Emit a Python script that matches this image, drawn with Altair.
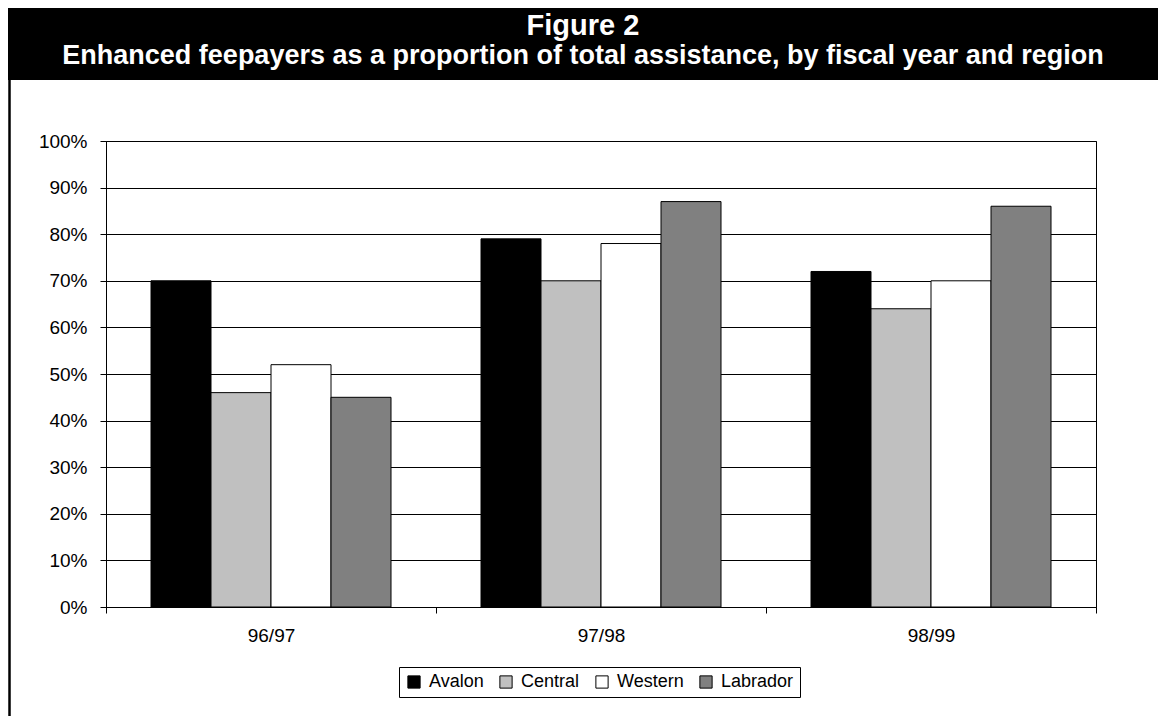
import altair as alt
import pandas as pd

years = ["96/97", "97/98", "98/99"]
regions = ["Avalon", "Central", "Western", "Labrador"]
avalon = [70, 79, 72]
central = [46, 70, 64]
western = [52, 78, 70]
labrador = [45, 87, 86]
region_colors = ["#000000", "#C0C0C0", "#FFFFFF", "#808080"]
title_text = "Figure 2"
subtitle_text = "Enhanced feepayers as a proportion of total assistance, by fiscal year and region"
y_ticks = [i / 10 for i in range(11)]

series = [avalon, central, western, labrador]
rows = []
for r, vals in zip(regions, series):
    for yr, v in zip(years, vals):
        rows.append({"year": yr, "region": r, "value": v / 100})
df = pd.DataFrame(rows)

FONT = "Liberation Sans"
PW, PH = 990, 466
PL, PT, PR, PB = 98, 133, 62, 109

bars = alt.Chart(df).mark_bar(stroke="black", strokeWidth=1).encode(
    x=alt.X("year:N", sort=years,
            scale=alt.Scale(paddingInner=0, paddingOuter=0),
            axis=alt.Axis(title=None, labelAngle=0, tickBand="extent",
                          labelFontSize=19, labelPadding=13, tickSize=6,
                          tickColor="black", domainColor="black",
                          labelColor="black", labelFont=FONT, grid=False)),
    xOffset=alt.XOffset("region:N", sort=regions,
                        scale=alt.Scale(paddingInner=0, paddingOuter=0.75)),
    y=alt.Y("value:Q", scale=alt.Scale(domain=[0, 1]),
            axis=alt.Axis(title=None, values=y_ticks, format=".0%",
                          labelFontSize=19, labelPadding=13, tickSize=6,
                          tickColor="black", domainColor="black",
                          labelColor="black", labelFont=FONT,
                          grid=True, gridColor="black", gridOpacity=1,
                          gridWidth=1)),
    fill=alt.Fill("region:N", sort=regions,
                  scale=alt.Scale(domain=regions, range=region_colors),
                  legend=alt.Legend(title=None, orient="none", legendX=293,
                                    legendY=526, direction="horizontal",
                                    columns=4,
                                    strokeColor="black", padding=6,
                                    symbolType="square", symbolSize=150,
                                    symbolStrokeColor="black",
                                    symbolStrokeWidth=1,
                                    labelFontSize=18, labelFont=FONT,
                                    labelColor="black", labelOffset=6,
                                    columnPadding=13)),
)

one = pd.DataFrame({"k": [0]})
band = alt.Chart(one).mark_rect(color="black").encode(
    x=alt.value(-PL), x2=alt.value(PW + PR),
    y=alt.value(-PT), y2=alt.value(80 - 141),
)
border = alt.Chart(one).mark_rule(color="black", strokeWidth=2.5).encode(
    x=alt.value(-PL + 1.5), y=alt.value(-PT), y2=alt.value(PH + PB),
)
t1 = alt.Chart(pd.DataFrame({"t": [title_text]})).mark_text(
    font=FONT, fontSize=29, fontWeight="bold", color="white",
    align="center", baseline="alphabetic",
).encode(text="t:N", x=alt.value(477), y=alt.value(35 - 141))
t2 = alt.Chart(pd.DataFrame({"t": [subtitle_text]})).mark_text(
    font=FONT, fontSize=27, fontWeight="bold", color="white",
    align="center", baseline="alphabetic",
).encode(text="t:N", x=alt.value(477), y=alt.value(64 - 141))

chart = alt.layer(bars, band, border, t1, t2).properties(
    width=PW, height=PH,
    autosize=alt.AutoSizeParams(type="none"),
    padding={"left": PL, "top": PT, "right": PR, "bottom": PB},
    background="white",
).configure_view(stroke="black", strokeWidth=1)

chart.save("out.html", embed_options={"renderer": "svg", "actions": False})
